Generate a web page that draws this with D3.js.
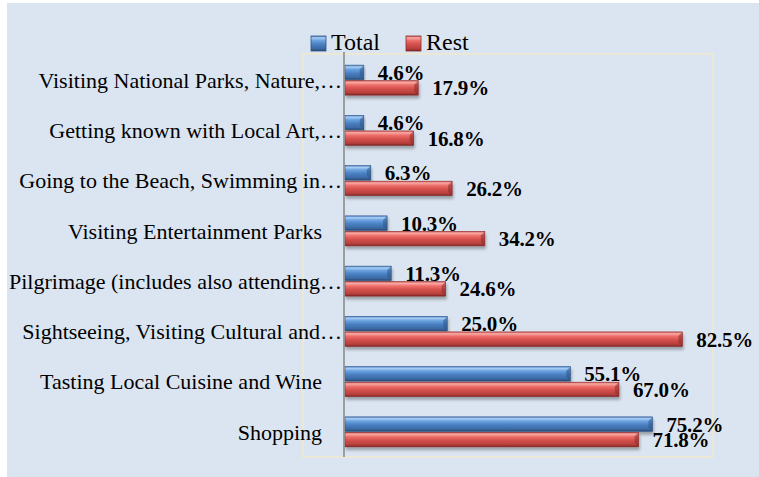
<!DOCTYPE html>
<html>
<head>
<meta charset="utf-8">
<script src="https://cdn.jsdelivr.net/npm/d3@7"></script>
<style>
body { margin: 0; background: #ffffff; }
</style>
</head>
<body>
<svg id="chart"></svg>
<script>
var categories = [
	"Visiting National Parks, Nature,\u2026",
	"Getting known with Local Art,\u2026",
	"Going to the Beach, Swimming in\u2026",
	"Visiting Entertainment Parks",
	"Pilgrimage (includes also attending\u2026",
	"Sightseeing, Visiting Cultural and\u2026",
	"Tasting Local Cuisine and Wine",
	"Shopping"
];
var dataTotal = [4.6, 4.6, 6.3, 10.3, 11.3, 25.0, 55.1, 75.2];
var dataRest = [17.9, 16.8, 26.2, 34.2, 24.6, 82.5, 67.0, 71.8];
var seriesNames = ["Total", "Rest"];

var width = 759;
var height = 477;
var svg = d3.select("#chart")
	.attr("width", width)
	.attr("height", height);

// background
svg.append("rect")
	.attr("x", 7)
	.attr("y", 3)
	.attr("width", width - 7)
	.attr("height", height - 3)
	.attr("fill", "#dbe5f1");

var defs = svg.append("defs");
function addGrad(id, stops) {
	var g = defs.append("linearGradient")
		.attr("id", id)
		.attr("x1", 0).attr("y1", 0)
		.attr("x2", 0).attr("y2", 1);
	stops.forEach(function(s){
		g.append("stop").attr("offset", s[0]).attr("stop-color", s[1]);
	});
}
addGrad("gradTotal", [["0%","#4f86c6"],["12%","#a9cdf5"],["30%","#6aa2e0"],["55%","#4a80c2"],["85%","#3b69a3"],["100%","#27466f"]]);
addGrad("gradRest", [["0%","#d65a56"],["12%","#f8aaa6"],["30%","#ee6f6a"],["55%","#d4504c"],["85%","#b63f3c"],["100%","#7b2523"]]);
var shadow = defs.append("filter").attr("id", "shadow")
	.attr("x", "-5%").attr("y", "-30%").attr("width", "115%").attr("height", "180%");
shadow.append("feDropShadow")
	.attr("dx", 1).attr("dy", 3)
	.attr("stdDeviation", 1.5)
	.attr("flood-color", "#000")
	.attr("flood-opacity", 0.3);

var fills = { "Total": "url(#gradTotal)", "Rest": "url(#gradRest)" };
var edgeColors = { "Total": "#2d5387", "Rest": "#8a2c2a" };

var plotLeft = 303, plotRight = 713, plotTop = 54, plotBottom = 457;
var axisX = 344;

var x = d3.scaleLinear()
	.domain([0, 90])
	.range([axisX + 1, plotRight]);
var y = d3.scaleBand()
	.domain(categories)
	.range([plotTop + 1, plotBottom]);
var ySub = d3.scaleBand()
	.domain(seriesNames)
	.range([y.bandwidth() / 2 - 15, y.bandwidth() / 2 + 15])
	.paddingInner(0.07);

// plot area border
svg.append("rect")
	.attr("x", plotLeft)
	.attr("y", plotTop)
	.attr("width", plotRight - plotLeft)
	.attr("height", plotBottom - plotTop)
	.attr("fill", "none")
	.attr("stroke", "#ece8d6")
	.attr("stroke-width", 2);

// legend
var legend = svg.append("g");
var legendX = [311, 406];
seriesNames.forEach(function(name, i){
	legend.append("rect")
		.attr("x", legendX[i])
		.attr("y", 36)
		.attr("width", 15)
		.attr("height", 15)
		.attr("fill", fills[name])
		.attr("stroke", edgeColors[name])
		.attr("stroke-width", 0.8);
	legend.append("text")
		.attr("x", legendX[i] + 20)
		.attr("y", 50)
		.attr("font-family", "Liberation Serif")
		.attr("font-size", "24px")
		.attr("fill", "#000")
		.text(name);
});

var rows = categories.map(function(c, i){
	return { cat: c, values: [ { s: "Total", v: dataTotal[i] }, { s: "Rest", v: dataRest[i] } ] };
});

var groups = svg.selectAll("g.row")
	.data(rows)
	.enter()
	.append("g")
	.attr("class", "row")
	.attr("transform", function(d){ return "translate(0," + y(d.cat) + ")"; });

var bars = groups.selectAll("g.bar")
	.data(function(d){ return d.values; })
	.enter()
	.append("g")
	.attr("class", "bar");

bars.append("rect")
	.attr("x", x(0))
	.attr("y", function(d){ return ySub(d.s); })
	.attr("width", function(d){ return x(d.v) - x(0); })
	.attr("height", ySub.bandwidth())
	.attr("fill", function(d){ return fills[d.s]; })
	.attr("stroke", function(d){ return edgeColors[d.s]; })
	.attr("stroke-width", 0.6)
	.attr("filter", "url(#shadow)");

// beveled right end
bars.append("path")
	.attr("d", function(d){
		var x1 = x(d.v), y0 = ySub(d.s), h = ySub.bandwidth();
		return "M" + x1 + "," + y0 + "L" + (x1 - 4) + "," + (y0 + 4) +
			"L" + (x1 - 4) + "," + (y0 + h - 4) + "L" + x1 + "," + (y0 + h) + "Z";
	})
	.attr("fill", function(d){ return edgeColors[d.s]; })
	.attr("opacity", 0.55);

bars.append("text")
	.attr("x", function(d){ return x(d.v) + 14; })
	.attr("y", function(d){ return ySub(d.s) + ySub.bandwidth() / 2; })
	.attr("dy", "0.36em")
	.attr("font-family", "Liberation Serif")
	.attr("font-weight", "bold")
	.attr("font-size", "21px")
	.attr("letter-spacing", "-0.2px")
	.attr("fill", "#000")
	.text(function(d){ return d.v.toFixed(1) + "%"; });

// category labels
groups.append("text")
	.attr("x", function(d){ return d.cat.slice(-1) === "\u2026" ? axisX - 2 : axisX - 22; })
	.attr("y", y.bandwidth() / 2)
	.attr("dy", "0.35em")
	.attr("text-anchor", "end")
	.attr("font-family", "Liberation Serif")
	.attr("font-size", "22px")
	.attr("fill", "#000")
	.text(function(d){ return d.cat; });

// vertical axis line
svg.append("line")
	.attr("x1", axisX)
	.attr("x2", axisX)
	.attr("y1", plotTop - 2)
	.attr("y2", plotBottom)
	.attr("stroke", "#868686")
	.attr("stroke-width", 1.5);
</script>
</body>
</html>
